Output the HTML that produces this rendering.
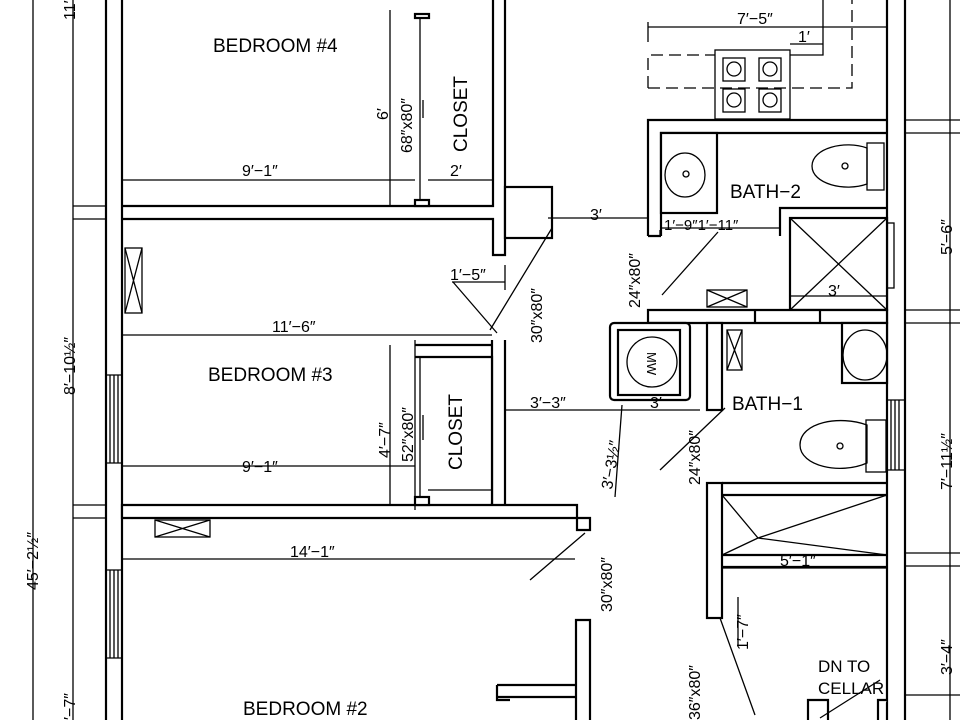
<!DOCTYPE html>
<html><head><meta charset="utf-8"><style>
html,body{margin:0;padding:0;background:#fff;width:960px;height:720px;overflow:hidden}
svg{display:block}
text{font-family:"Liberation Sans",sans-serif;fill:#000}
</style></head><body>
<svg width="960" height="720" viewBox="0 0 960 720" xmlns="http://www.w3.org/2000/svg">
<g fill="#fff" stroke="#000" stroke-width="2.2">
<rect x="106" y="-2" width="16" height="724"/>
<rect x="887" y="-2" width="18" height="724"/>
<path d="M122 206 H493 V0 M122 219 H493 V255 H505 V0"/>
<path d="M122 505 H577 V530 H590 V518 H122 Z"/>
<path d="M492 340 V505 M505 340 V505"/>
<path d="M415 345 H492 M415 357 H492 V505"/>
<path d="M576 720 V620 H590 V720 M497 685 H576 M497 697 H576 M497 685 V700 H510"/>
<path d="M648 236 V120 H887 M661 236 V133 H887 M648 236 H661"/>
<rect x="661" y="133" width="56" height="80"/>
<path d="M780 236 V208 H887"/>
<rect x="790" y="218" width="97" height="92"/>
<path d="M648 310 H887 V323 H648 Z M755 310 V323 M820 310 V323"/>
<rect x="505" y="187" width="47" height="51"/>
<rect x="610" y="323" width="80" height="77" rx="4"/>
<rect x="618" y="330" width="62" height="65"/>
<rect x="707" y="323" width="15" height="87"/>
<rect x="707" y="483" width="15" height="135"/>
<path d="M722 483 H887 M722 495 H887 M722 555 H887 M722 567 H887"/>
<rect x="842" y="323" width="45" height="60"/>
<path d="M808 720 V700 H828 V720 M878 720 V700 H887"/>
<rect x="415" y="14" width="14" height="4"/>
<rect x="415" y="200" width="14" height="6"/>
<rect x="415" y="497" width="14" height="8"/>
</g>
<g fill="none" stroke="#000" stroke-width="1.3">
<path d="M648 88 H852 V0 M648 88 V55 H715" stroke-dasharray="12 6"/>
<rect x="715" y="50" width="75" height="69"/>
<rect x="723" y="58" width="22" height="23"/><rect x="759" y="58" width="22" height="23"/>
<rect x="723" y="89" width="22" height="23"/><rect x="759" y="89" width="22" height="23"/>
<circle cx="734" cy="69" r="7"/><circle cx="770" cy="69" r="7"/>
<circle cx="734" cy="100" r="7"/><circle cx="770" cy="100" r="7"/>
<path d="M648 27 H887 M648 22 V42 M790 44 H823 M823 0 V55 H790"/>
<path d="M790 218 L887 310 M887 218 L790 310"/>
<rect x="887" y="223" width="7" height="65"/>
<ellipse cx="685" cy="175" rx="20" ry="22"/><circle cx="686" cy="174" r="3"/>
<path d="M867 148 C845 140 812 148 812 166 C812 184 845 192 867 184 Z"/><circle cx="845" cy="166" r="3"/>
<rect x="867" y="143" width="17" height="47"/>
<rect x="707" y="290" width="40" height="17"/><path d="M707 290 L747 307 M747 290 L707 307"/>
<rect x="727" y="330" width="15" height="40"/><path d="M727 330 L742 370 M742 330 L727 370"/>
<rect x="125" y="248" width="17" height="65"/><path d="M125 248 L142 313 M142 248 L125 313"/>
<rect x="155" y="520" width="55" height="17"/><path d="M155 520 L210 537 M210 520 L155 537"/>
<circle cx="652" cy="362" r="25"/>
<ellipse cx="865" cy="355" rx="22" ry="25"/>
<path d="M867 425 C840 415 800 422 800 445 C800 466 840 475 867 463 Z"/><circle cx="840" cy="446" r="3"/>
<rect x="866" y="420" width="20" height="52"/>
<path d="M722 495 L758 538 L887 495 M758 538 L722 555 M758 538 L887 555"/>
<path d="M110 375 V463 M114 375 V463 M118 375 V463 M106 375 H122 M106 463 H122"/>
<path d="M110 570 V658 M114 570 V658 M118 570 V658 M106 570 H122 M106 658 H122"/>
<path d="M891 400 V470 M895 400 V470 M899 400 V470 M887 400 H905 M887 470 H905"/>
<path d="M420 18 V200 M423 100 V118 M420 357 V497 M423 415 V440"/>
<path d="M552 228 L490 330 M453 282 L497 333 M660 470 L725 408 M530 580 L585 533 M720 618 L755 715 M820 718 L880 680"/>
<path d="M662 295 L718 232"/>
<path d="M122 180 H415 M428 180 H492 M390 10 V206 M122 335 H492 M415 510 V340 M390 345 V505 M122 466 H415 M428 490 H492 M122 559 H575 M505 410 H700 M452 282 H505 M505 265 V290 M548 218 H648 M661 228 H780 M660 230 V236 M622 405 L615 497 M790 296 H887 M722 568 H887 M738 597 V645"/>
<path d="M33 0 V720 M73 0 V720 M73 206 H106 M73 219 H106 M73 505 H106 M73 518 H106 M950 0 V720 M905 120 H960 M905 133 H960 M905 310 H960 M905 323 H960 M905 553 H960 M905 566 H960 M905 695 H960"/>
</g>
<g font-size="19">
<text x="213" y="52">BEDROOM  #4</text>
<text x="208" y="381">BEDROOM  #3</text>
<text x="243" y="715">BEDROOM  #2</text>
<text x="730" y="198">BATH−2</text>
<text x="732" y="410">BATH−1</text>
<text x="818" y="672" font-size="17">DN  TO</text>
<text x="818" y="694" font-size="17">CELLAR</text>
<text transform="translate(467,152) rotate(-90)">CLOSET</text>
<text transform="translate(462,470) rotate(-90)">CLOSET</text>
</g>
<g font-size="16">
<text x="242" y="176">9′−1″</text><text x="450" y="176">2′</text>
<text x="272" y="332">11′−6″</text><text x="242" y="472">9′−1″</text>
<text x="290" y="557">14′−1″</text><text x="737" y="24">7′−5″</text>
<text x="798" y="42">1′</text><text x="590" y="220">3′</text>
<text x="664" y="230" font-size="15">1′−9″1′−11″</text>
<text x="828" y="296">3′</text><text x="450" y="280">1′−5″</text>
<text x="530" y="408">3′−3″</text><text x="650" y="408">3′</text>
<text x="780" y="566">5′−1″</text>
<text transform="translate(412,153) rotate(-90)">68″x80″</text>
<text transform="translate(388,120) rotate(-90)">6′</text>
<text transform="translate(413,462) rotate(-90)">52″x80″</text>
<text transform="translate(390,458) rotate(-90)">4′−7″</text>
<text transform="translate(542,343) rotate(-90)">30″x80″</text>
<text transform="translate(612,612) rotate(-90)">30″x80″</text>
<text transform="translate(640,308) rotate(-90)">24″x80″</text>
<text transform="translate(700,485) rotate(-90)">24″x80″</text>
<text transform="translate(612,490) rotate(-80)">3′−3½″</text>
<text transform="translate(748,650) rotate(-90)">1′−7″</text>
<text transform="translate(700,720) rotate(-90)">36″x80″</text>
<text transform="translate(75,20) rotate(-90)">11′−1</text>
<text transform="translate(75,395) rotate(-90)">8′−10½″</text>
<text transform="translate(38,590) rotate(-90)">45′−2½″</text>
<text transform="translate(75,720) rotate(-90)">′−7″</text>
<text transform="translate(952,255) rotate(-90)">5′−6″</text>
<text transform="translate(952,490) rotate(-90)">7′−11½″</text>
<text transform="translate(952,675) rotate(-90)">3′−4″</text>
<text transform="translate(647,352) rotate(90)" font-size="13">MW</text>
</g>
</svg>
</body></html>
